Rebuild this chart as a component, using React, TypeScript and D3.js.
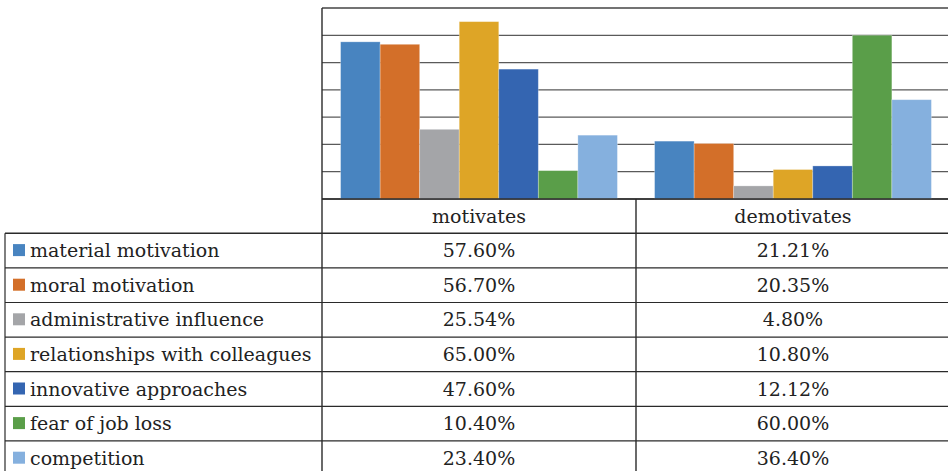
import React from "react";
import * as d3 from "d3";

const categories = ["motivates", "demotivates"];
const seriesNames = [
  "material motivation",
  "moral motivation",
  "administrative influence",
  "relationships with colleagues",
  "innovative approaches",
  "fear of job loss",
  "competition",
];
const motivates = [57.6, 56.7, 25.54, 65.0, 47.6, 10.4, 23.4];
const demotivates = [21.21, 20.35, 4.8, 10.8, 12.12, 60.0, 36.4];
const colors = ["#4884c0", "#d36f29", "#a4a5a8", "#dea526", "#3465b1", "#5a9e49", "#85b0de"];
const yTicks = [0, 10, 20, 30, 40, 50, 60, 70];

const W = 948;
const H = 471;
const FONT = "'DejaVu Serif', serif";

export default function App() {
  const left = 322;
  const right = 950;
  const legendLeft = 5;
  const top = 8;
  const base = 199;
  const headerBottom = 233.3;
  const rowH = 34.6;
  const fs = 19;

  const x = d3.scaleBand<string>().domain(categories).range([left, right]).paddingInner(0).paddingOuter(0);
  const xi = d3.scaleBand<string>().domain(seriesNames).range([0, x.bandwidth()]).paddingInner(0).paddingOuter(0.47);
  const y = d3.scaleLinear().domain([0, 70]).range([base, top]);
  const rows = d3.scaleBand<string>().domain(seriesNames).range([headerBottom, headerBottom + rowH * seriesNames.length]);
  const values = [motivates, demotivates];
  const fmt = (v: number) => v.toFixed(2) + "%";
  const lineC = "#2a2a2a";

  return (
    <svg width={W} height={H} style={{ position: "absolute", left: 0, top: 0, background: "#fff" }} fontFamily={FONT}>
      {yTicks.map((t) => (
        <line key={t} x1={left} x2={right} y1={y(t)} y2={y(t)} stroke={t === 70 ? "#444" : "#5a5a5a"} strokeWidth={1.3} />
      ))}
      {categories.map((c, ci) =>
        seriesNames.map((s, si) => (
          <rect
            key={c + s}
            x={(x(c) as number) + (xi(s) as number)}
            y={y(values[ci][si])}
            width={xi.bandwidth()}
            height={base - y(values[ci][si])}
            fill={colors[si]}
            stroke="#ffffff"
            strokeOpacity={0.35}
            strokeWidth={0.8}
          />
        ))
      )}
      <line x1={left} x2={left} y1={top} y2={H} stroke={lineC} strokeWidth={1.4} />
      <line x1={left} x2={right} y1={base} y2={base} stroke={lineC} strokeWidth={1.4} />
      <line x1={x("demotivates") as number} x2={x("demotivates") as number} y1={base} y2={H} stroke={lineC} strokeWidth={1.4} />
      {categories.map((c) => (
        <text key={c} x={(x(c) as number) + x.bandwidth() / 2} y={(base + headerBottom) / 2} textAnchor="middle" dominantBaseline="central" fontSize={fs} fill="#222">
          {c}
        </text>
      ))}
      <line x1={legendLeft} x2={right} y1={headerBottom} y2={headerBottom} stroke={lineC} strokeWidth={1.4} />
      <line x1={legendLeft} x2={legendLeft} y1={headerBottom} y2={H} stroke={lineC} strokeWidth={1.2} />
      {seriesNames.map((s, si) => {
        const ry = rows(s) as number;
        const cy = ry + rowH / 2;
        return (
          <g key={s}>
            <line x1={legendLeft} x2={right} y1={ry + rowH} y2={ry + rowH} stroke={lineC} strokeWidth={1.2} />
            <rect x={13} y={cy - 6.5} width={12} height={12} fill={colors[si]} />
            <text x={30} y={cy - 0.5} dominantBaseline="central" fontSize={fs} fill="#222">
              {s}
            </text>
            {categories.map((c, ci) => (
              <text key={c} x={(x(c) as number) + x.bandwidth() / 2} y={cy - 0.5} textAnchor="middle" dominantBaseline="central" fontSize={fs} fill="#222">
                {fmt(values[ci][si])}
              </text>
            ))}
          </g>
        );
      })}
    </svg>
  );
}
